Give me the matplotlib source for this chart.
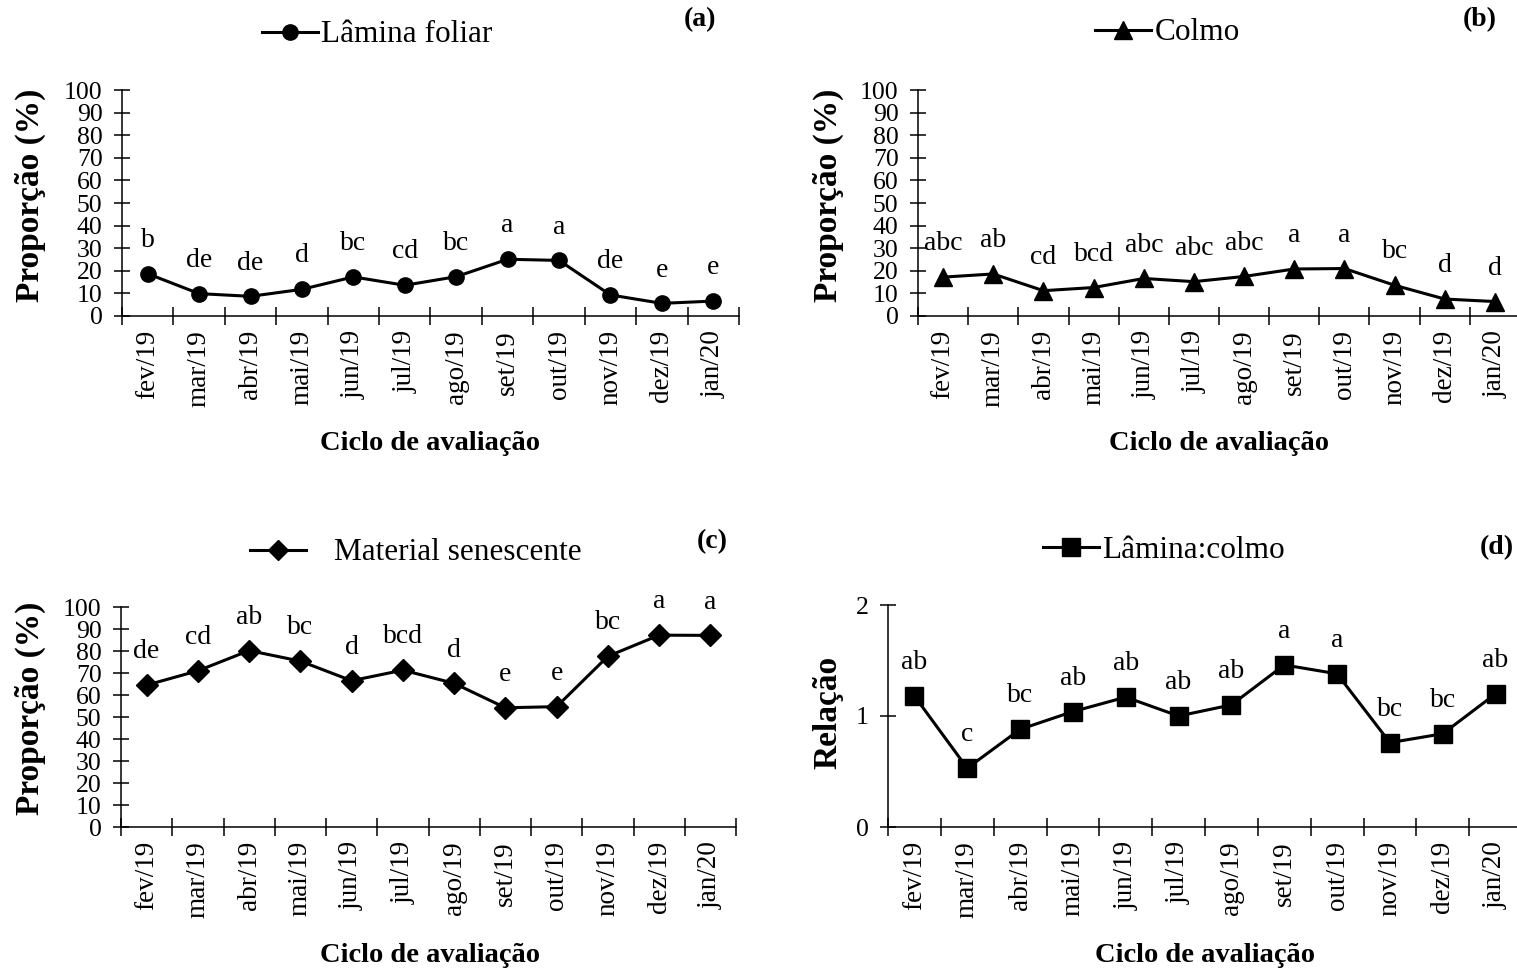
import matplotlib.pyplot as plt
from matplotlib.lines import Line2D

meses = ['fev/19', 'mar/19', 'abr/19', 'mai/19', 'jun/19', 'jul/19',
         'ago/19', 'set/19', 'out/19', 'nov/19', 'dez/19', 'jan/20']

lamina = [18.7, 9.9, 8.7, 11.8, 17.3, 13.6, 17.4, 25.1, 24.6, 9.3, 5.6, 6.6]
lamina_letras = ['b', 'de', 'de', 'd', 'bc', 'cd', 'bc', 'a', 'a', 'de', 'e', 'e']

colmo = [17.2, 18.6, 11.2, 12.6, 16.6, 15.2, 17.5, 20.8, 21.0, 13.6, 7.5, 6.4]
colmo_letras = ['abc', 'ab', 'cd', 'bcd', 'abc', 'abc', 'abc', 'a', 'a', 'bc', 'd', 'd']

senescente = [64.5, 71.0, 80.2, 75.4, 66.5, 71.3, 65.3, 54.2, 54.7, 77.6, 87.2, 87.1]
senescente_letras = ['de', 'cd', 'ab', 'bc', 'd', 'bcd', 'd', 'e', 'e', 'bc', 'a', 'a']

relacao = [1.18, 0.53, 0.88, 1.04, 1.17, 1.00, 1.10, 1.46, 1.38, 0.76, 0.84, 1.20]
relacao_letras = ['ab', 'c', 'bc', 'ab', 'ab', 'ab', 'ab', 'a', 'a', 'bc', 'bc', 'ab']

W, H = 1517, 971
plt.rcParams['font.family'] = ['Liberation Serif', 'DejaVu Serif']
fig = plt.figure(figsize=(W / 100, H / 100), dpi=100)


def fx(x):
    return x / W


def fy(y):
    return 1 - y / H


def painel(x0, y_top, x1, y_bottom, valores, letras, marcador, ms, ylim, yticks):
    ax = fig.add_axes([fx(x0), fy(y_bottom), (x1 - x0) / W, (y_bottom - y_top) / H])
    x = list(range(len(valores)))
    ax.plot(x, valores, color='black', lw=2.2, marker=marcador, ms=ms, clip_on=False)
    for i, (v, l) in enumerate(zip(valores, letras)):
        ax.annotate(l, (i, v), xytext=(0, 24), textcoords='offset points',
                    ha='center', va='center', fontsize=20)
    ax.set_xlim(-0.5, len(valores) - 0.5)
    ax.set_ylim(*ylim)
    ax.set_yticks(yticks)
    # marcas nos limites entre meses, rótulos no centro
    ax.set_xticks([i - 0.5 for i in range(len(valores) + 1)])
    ax.set_xticklabels([])
    ax.set_xticks(x, minor=True)
    ax.set_xticklabels(meses, minor=True, rotation=90)
    ax.tick_params(axis='x', which='major', direction='inout', length=13, width=1.1)
    ax.tick_params(axis='x', which='minor', length=0, pad=10, labelsize=19.5)
    ax.tick_params(axis='y', direction='inout', length=12, width=1.1, pad=8, labelsize=18.5)
    for s in ['top', 'right']:
        ax.spines[s].set_visible(False)
    for s in ['left', 'bottom']:
        ax.spines[s].set_linewidth(1.1)
    return ax


def legenda(x, y, marcador, ms, texto, sep=0.1):
    h = Line2D([], [], color='black', lw=2.2, marker=marcador, ms=ms)
    fig.legend([h], [texto], loc='center left', bbox_to_anchor=(fx(x), fy(y)),
               bbox_transform=fig.transFigure, frameon=False, fontsize=22.5,
               handlelength=1.8, handletextpad=sep, borderpad=0, borderaxespad=0)


def rotulos(xc, xl, yl, ylabel, xlab_y):
    fig.text(fx(xl), fy(yl), ylabel, rotation=90, ha='center', va='center',
             fontsize=24, fontweight='bold')
    fig.text(fx(xc), fy(xlab_y), 'Ciclo de avaliação', ha='center', va='center',
             fontsize=20.5, fontweight='bold')


yt = list(range(0, 101, 10))

painel(122, 90, 739, 316, lamina, lamina_letras, 'o', 11, (0, 100), yt)
painel(918, 90, 1520, 316, colmo, colmo_letras, '^', 13, (0, 100), yt)
painel(121, 607, 736, 827, senescente, senescente_letras, 'D', 11, (0, 100), yt)
painel(888, 605, 1522, 827, relacao, relacao_letras, 's', 13, (0, 2), [0, 1, 2])

rotulos(430, 30, 195, 'Proporção (%)', 443)
rotulos(1219, 828, 195, 'Proporção (%)', 443)
rotulos(430, 30, 708, 'Proporção (%)', 955)
rotulos(1205, 828, 712, 'Relação', 955)

legenda(262, 35, 'o', 11, 'Lâmina foliar')
legenda(1095, 33, '^', 13, 'Colmo')
legenda(250, 553, 'D', 10, 'Material senescente', sep=0.9)
legenda(1043, 550, 's', 13, 'Lâmina:colmo')

for letra, x, y in [('(a)', 700, 20), ('(b)', 1480, 20), ('(c)', 712, 542), ('(d)', 1497, 548)]:
    fig.text(fx(x), fy(y), letra, ha='center', va='center', fontsize=20, fontweight='bold')

fig.savefig('out.png', dpi=100)
